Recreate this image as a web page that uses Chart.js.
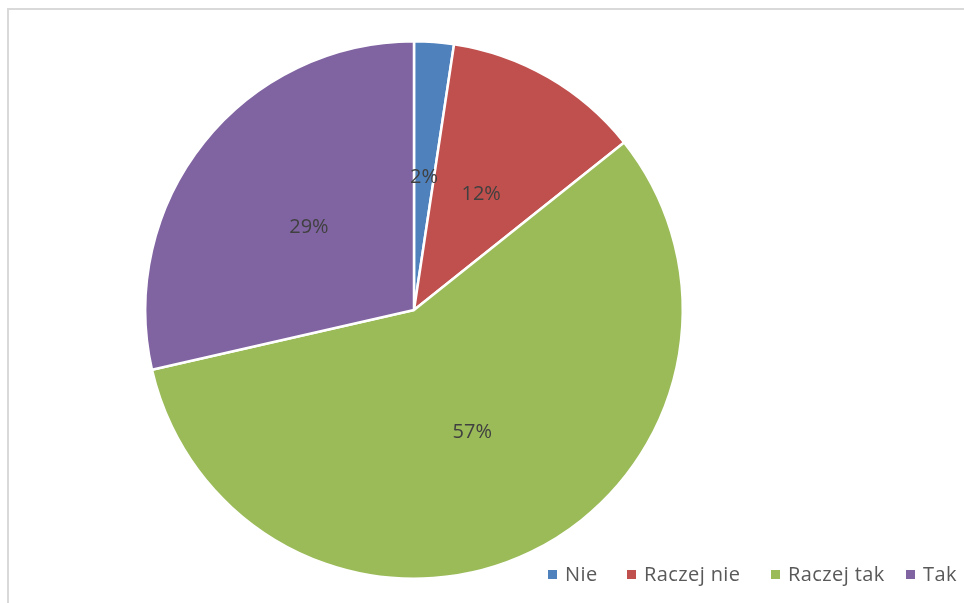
<!DOCTYPE html>
<html>
<head>
<meta charset="utf-8">
<script src="https://cdn.jsdelivr.net/npm/chart.js@4.4.0/dist/chart.umd.min.js"></script>
<style>
    html, body { margin: 0; padding: 0; background: #fff; overflow: hidden; }
    .frame {
        position: absolute; left: 7px; top: 8px; width: 1100px; height: 700px;
        border-left: 2px solid #d9d9d9; border-top: 2px solid #d9d9d9;
    }
    .wrap { position: absolute; left: 0; top: 0; width: 964px; height: 603px; }
</style>
</head>
<body>
<div class="frame"></div>
<div class="wrap"><canvas id="pie"></canvas></div>
<script>
// dane z wykresu (liczba odpowiedzi)
const categories = ['Nie', 'Raczej nie', 'Raczej tak', 'Tak'];
const answers = [1, 5, 24, 12];
const sliceColors = ['#4F81BD', '#C0504D', '#9BBB59', '#8064A2'];

const total = answers.reduce((a, b) => a + b, 0);

// etykiety procentowe w srodku wycinkow
const percentLabels = {
    id: 'percentLabels',
    afterDatasetsDraw(chart) {
        const ctx = chart.ctx;
        const meta = chart.getDatasetMeta(0);
        ctx.save();
        ctx.font = '20px "Open Sans"';
        ctx.fillStyle = '#404040';
        ctx.textAlign = 'center';
        ctx.textBaseline = 'middle';
        meta.data.forEach((arc, i) => {
            const p = arc.getCenterPoint();
            const pct = Math.round(answers[i] / total * 100) + '%';
            ctx.fillText(pct, p.x, p.y + 1);
        });
        ctx.restore();
    }
};

// legenda w prawym dolnym rogu
const legendX = [548, 627, 771, 906];
const bottomLegend = {
    id: 'bottomLegend',
    afterDraw(chart) {
        const ctx = chart.ctx;
        ctx.save();
        ctx.font = '20px "Open Sans"';
        ctx.letterSpacing = '0.4px';
        ctx.textBaseline = 'middle';
        const y = 575;
        categories.forEach((name, i) => {
            const x = legendX[i];
            ctx.fillStyle = sliceColors[i];
            ctx.fillRect(x, y - 5, 9, 9);
            ctx.fillStyle = '#595959';
            ctx.fillText(name, x + 17, y);
        });
        ctx.restore();
    }
};

new Chart(document.getElementById('pie'), {
    type: 'pie',
    data: {
        labels: categories,
        datasets: [{
            data: answers,
            backgroundColor: sliceColors,
            borderColor: '#ffffff',
            borderWidth: 2.5
        }]
    },
    options: {
        responsive: true,
        maintainAspectRatio: false,
        animation: false,
        layout: {
            padding: { left: 144, right: 280, top: 40, bottom: 23 }
        },
        plugins: {
            legend: { display: false },
            tooltip: { enabled: false }
        }
    },
    plugins: [percentLabels, bottomLegend]
});
</script>
</body>
</html>
